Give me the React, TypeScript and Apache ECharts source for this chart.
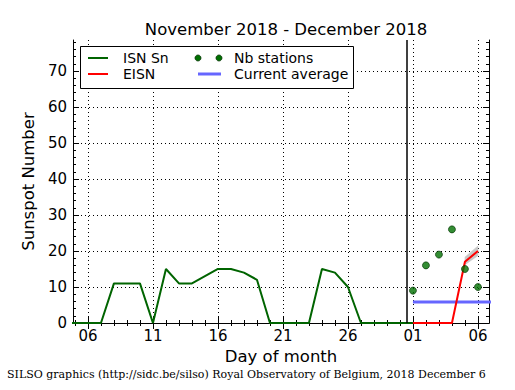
import React, { useEffect, useRef } from "react";
import * as echarts from "echarts";

// Day index: November d = d, December d = 30 + d
const isnDays = [4, 5, 6, 7, 8, 9, 10, 11, 12, 13, 14, 15, 16, 17, 18, 19, 20, 21, 22, 23, 24, 25, 26, 27, 28, 29, 30, 31];
const isnValues = [0, 0, 0, 0, 11, 11, 11, 0, 15, 11, 11, 13, 15, 15, 14, 12, 0, 0, 0, 0, 15, 14, 10, 0, 0, 0, 0, 0];

const eisnDays = [31, 32, 33, 34, 35, 36];
const eisnValues = [0, 0, 0, 0, 17, 20];

const bandDays = [35, 36];
const bandLower = [16.2, 18.7];
const bandUpper = [18.3, 21.4];

const stationDays = [31, 32, 33, 34, 35, 36];
const stationValues = [9, 16, 19, 26, 15, 10];

const averageDays = [31, 37];
const averageValue = 5.8;

const monthBoundary = 30.5;

const xMin = 4.85;
const xMax = 36.85;
const yMin = 0;
const yMax = 78.6;

const xTickDays = [6, 11, 16, 21, 26, 31, 36];
const xTickLabels = ["06", "11", "16", "21", "26", "01", "06"];
const xMinorDays = [5, 6, 7, 8, 9, 10, 11, 12, 13, 14, 15, 16, 17, 18, 19, 20, 21, 22, 23, 24, 25, 26, 27, 28, 29, 30, 31, 32, 33, 34, 35, 36];
const yTicks = [0, 10, 20, 30, 40, 50, 60, 70];
const yMinor = [2, 4, 6, 8, 12, 14, 16, 18, 22, 24, 26, 28, 32, 34, 36, 38, 42, 44, 46, 48, 52, 54, 56, 58, 62, 64, 66, 68, 72, 74, 76, 78];

const FONT = "DejaVu Sans";

export default function App() {
  const ref = useRef<HTMLDivElement>(null);
  useEffect(() => {
    if (!ref.current) return;
    const chart = echarts.init(ref.current, null, { renderer: "svg" });
    const axisLine = { show: true, lineStyle: { color: "#000", width: 1 } };
    const mkX = (pos: string, major: boolean, main: boolean) => ({
      type: "value",
      min: xMin,
      max: xMax,
      position: pos,
      axisLine: main ? axisLine : { show: false },
      axisTick: {
        show: true,
        inside: true,
        length: major ? 6 : 3,
        customValues: major ? xTickDays : xMinorDays,
        lineStyle: { color: "#000", width: 1 },
      },
      axisLabel: main && pos === "bottom"
        ? {
            show: true,
            customValues: xTickDays,
            formatter: (v: number) => xTickLabels[xTickDays.indexOf(v)] ?? "",
            color: "#000",
            fontFamily: FONT,
            fontSize: 15,
            margin: 5,
          }
        : { show: false },
      splitLine: main && pos === "bottom"
        ? { show: true, lineStyle: { color: "#000", width: 1, type: [1, 3] } }
        : { show: false },
      name: main && pos === "bottom" ? "Day of month" : "",
      nameLocation: "middle",
      nameGap: 25,
      nameTextStyle: { color: "#000", fontFamily: FONT, fontSize: 16.5 },
    });
    const mkY = (pos: string, major: boolean, main: boolean) => ({
      type: "value",
      min: yMin,
      max: yMax,
      position: pos,
      axisLine: main ? axisLine : { show: false },
      axisTick: {
        show: true,
        inside: true,
        length: major ? 6 : 3,
        customValues: major ? yTicks : yMinor,
        lineStyle: { color: "#000", width: 1 },
      },
      axisLabel: main && pos === "left"
        ? {
            show: true,
            customValues: yTicks,
            color: "#000",
            fontFamily: FONT,
            fontSize: 15,
            margin: 6,
          }
        : { show: false },
      splitLine: main && pos === "left"
        ? { show: true, lineStyle: { color: "#000", width: 1, type: [1, 3] } }
        : { show: false },
      name: main && pos === "left" ? "Sunspot Number" : "",
      nameLocation: "middle",
      nameGap: 35,
      nameTextStyle: { color: "#000", fontFamily: FONT, fontSize: 16.5 },
    });

    const zip = (xs: number[], ys: number[]) => xs.map((x, i) => [x, ys[i]]);

    const legendFont = `14px "${FONT}"`;
    const legendText = (x: number, y: number, text: string) => ({
      type: "text",
      x,
      y,
      z: 101,
      style: { text, fill: "#000", font: legendFont, verticalAlign: "middle", textVerticalAlign: "middle" },
    });

    chart.setOption({
      animation: false,
      backgroundColor: "#fff",
      textStyle: { fontFamily: FONT },
      title: {
        text: "November 2018 - December 2018",
        left: 281,
        top: 16,
        textAlign: "center",
        textStyle: { color: "#000", fontFamily: FONT, fontSize: 16.5, fontWeight: "normal" },
      },
      grid: { left: 73, right: 26, top: 40, bottom: 67, containLabel: false },
      xAxis: [
        mkX("bottom", true, true),
        mkX("bottom", false, false),
        mkX("top", true, true),
        mkX("top", false, false),
      ],
      yAxis: [
        mkY("left", true, true),
        mkY("left", false, false),
        mkY("right", true, true),
        mkY("right", false, false),
      ],
      series: [
        {
          name: "ISN Sn",
          type: "line",
          data: zip(isnDays, isnValues),
          symbol: "none",
          lineStyle: { color: "#006400", width: 2 },
          z: 3,
          markLine: {
            silent: true,
            symbol: "none",
            label: { show: false },
            lineStyle: { color: "#000", width: 1.5, type: "solid" },
            data: [{ xAxis: monthBoundary }],
          },
        },
        {
          name: "EISN band",
          type: "custom",
          data: bandDays.map((d, i) => [d, bandLower[i], bandUpper[i]]),
          z: 2,
          renderItem: (params: any, api: any) => {
            if (params.dataIndex !== 0) return null;
            const upper = bandDays.map((d, i) => api.coord([d, bandUpper[i]]));
            const lower = bandDays.map((d, i) => api.coord([d, bandLower[i]])).reverse();
            return {
              type: "polygon",
              shape: { points: upper.concat(lower) },
              style: { fill: "#c8c8c8", stroke: "#c8c8c8", lineWidth: 0.5 },
            };
          },
        },
        {
          name: "EISN",
          type: "line",
          data: zip(eisnDays, eisnValues),
          symbol: "none",
          lineStyle: { color: "#ff0000", width: 2 },
          z: 4,
        },
        {
          name: "Current average",
          type: "line",
          data: averageDays.map((d) => [d, averageValue]),
          symbol: "none",
          lineStyle: { color: "#6666ff", width: 3 },
          z: 3,
        },
        {
          name: "Nb stations",
          type: "scatter",
          data: zip(stationDays, stationValues),
          symbolSize: 7,
          itemStyle: { color: "#007000", borderColor: "#003000", borderWidth: 0.8 },
          z: 5,
        },
      ],
      graphic: [
        { type: "rect", z: 100, shape: { x: 80.5, y: 46.5, width: 273, height: 42 }, style: { fill: "#fff", stroke: "#000", lineWidth: 1 } },
        { type: "line", z: 101, shape: { x1: 88, y1: 58, x2: 108, y2: 58 }, style: { stroke: "#006400", lineWidth: 2 } },
        { type: "line", z: 101, shape: { x1: 88, y1: 74, x2: 108, y2: 74 }, style: { stroke: "#ff0000", lineWidth: 2 } },
        legendText(123, 58, "ISN Sn"),
        legendText(123, 74, "EISN"),
        { type: "circle", z: 101, shape: { cx: 198, cy: 58, r: 3 }, style: { fill: "#007000", stroke: "#003000", lineWidth: 0.8 } },
        { type: "circle", z: 101, shape: { cx: 219, cy: 58, r: 3 }, style: { fill: "#007000", stroke: "#003000", lineWidth: 0.8 } },
        { type: "line", z: 101, shape: { x1: 198, y1: 74, x2: 221, y2: 74 }, style: { stroke: "#6666ff", lineWidth: 3 } },
        legendText(234, 58, "Nb stations"),
        legendText(234, 74, "Current average"),
        {
          type: "text",
          left: 7,
          top: 369,
          style: {
            text: "SILSO graphics (http://sidc.be/silso) Royal Observatory of Belgium, 2018 December 6",
            fill: "#000",
            font: '11px "DejaVu Serif"',
          },
        },
      ],
    });
    return () => chart.dispose();
  }, []);
  return (
    <div
      ref={ref}
      style={{ position: "fixed", left: 0, top: 0, width: 515, height: 390, background: "#fff" }}
    />
  );
}
